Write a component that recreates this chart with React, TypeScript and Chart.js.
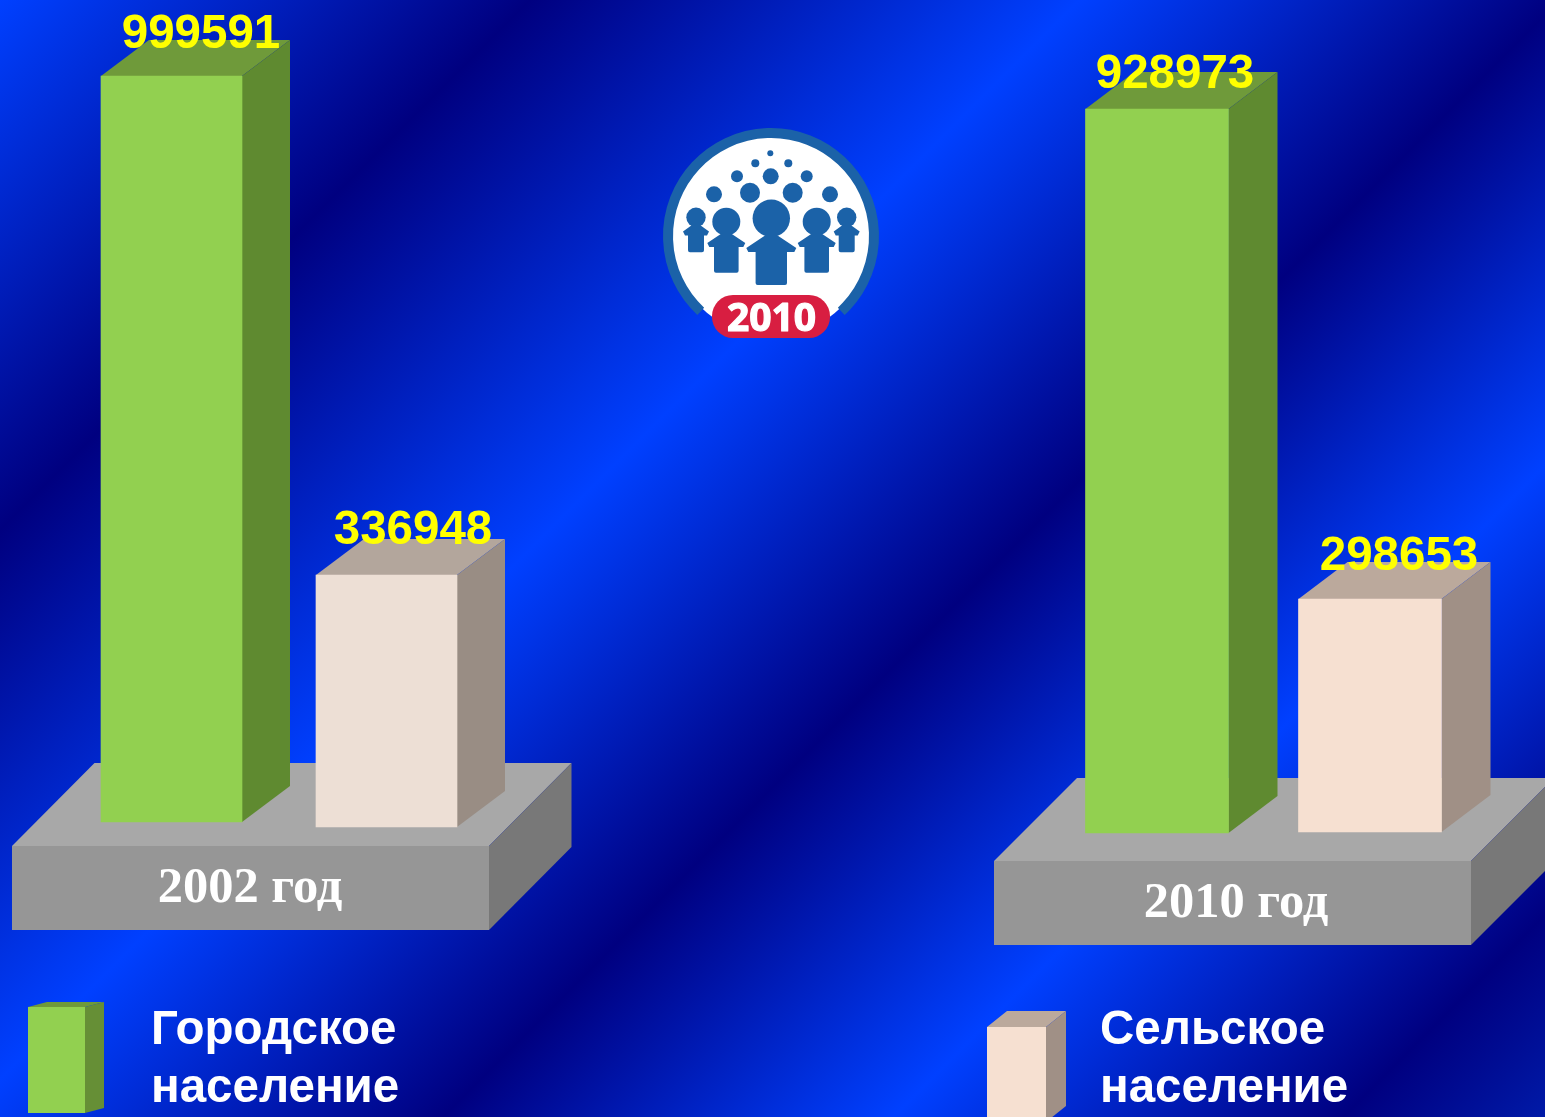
import React, { useEffect, useRef } from "react";
import { Chart, registerables } from "chart.js";

Chart.register(...registerables);

// ---- data ----
const categories = ["Городское население", "Сельское население"];
const years = ["2002 год", "2010 год"];
const urbanValues = [999591, 928973];
const ruralValues = [336948, 298653];
const logoYear = "2010";
const legendUrban = ["Городское", "население"];
const legendRural = ["Сельское", "население"];

// ---- layout & style ----
const W = 1545;
const H = 1117;
const FONT_SANS = '"Liberation Sans", Arial, sans-serif';
const FONT_SERIF = '"Liberation Serif", "Times New Roman", serif';

const GREEN = { front: "#92d050", side: "#5f8a30", top: "#6f9a3a" };
const RURAL_A = { front: "#eddfd5", side: "#998d84", top: "#b3a69c" };
const RURAL_B = { front: "#f6e0d1", side: "#a09086", top: "#bba99c" };

type Panel = {
  year: string;
  urban: number;
  rural: number;
  left: number;
  right: number;
  thickness: number;
  urbanBase: number;
  ruralBase: number;
  urbanK: number;
  ruralK: number;
  depthX: number;
  depthY: number;
  ruralStyle: typeof RURAL_A;
  labelOffsets: number[][];
  platform: { x0: number; x1: number; top: number; bottom: number; dx: number; dy: number };
  yearLabel: { x: number; y: number };
};

const panels: Panel[] = [
  {
    year: years[0], urban: urbanValues[0], rural: ruralValues[0],
    left: 64, right: 494, thickness: 141,
    urbanBase: 822, ruralBase: 827, urbanK: 746 / 999591, ruralK: 252 / 336948,
    depthX: 48, depthY: 36, ruralStyle: RURAL_A,
    labelOffsets: [[29.5, -41], [26.5, -44]],
    platform: { x0: 12, x1: 489, top: 846, bottom: 930, dx: 82.5, dy: 83 },
    yearLabel: { x: 250, y: 889 },
  },
  {
    year: years[1], urban: urbanValues[1], rural: ruralValues[1],
    left: 1050.5, right: 1476.5, thickness: 143,
    urbanBase: 833, ruralBase: 832, urbanK: 724 / 928973, ruralK: 233 / 298653,
    depthX: 49, depthY: 37, ruralStyle: RURAL_B,
    labelOffsets: [[18, -34], [29, -42]],
    platform: { x0: 994, x1: 1471, top: 861, bottom: 945, dx: 83, dy: 83 },
    yearLabel: { x: 1236, y: 904 },
  },
];

function poly(ctx: CanvasRenderingContext2D, pts: number[][], fill: string) {
  ctx.beginPath();
  pts.forEach(([x, y], i) => (i ? ctx.lineTo(x, y) : ctx.moveTo(x, y)));
  ctx.closePath();
  ctx.fillStyle = fill;
  ctx.fill();
}

function box(
  ctx: CanvasRenderingContext2D,
  x0: number, x1: number, top: number, bottom: number,
  dx: number, dy: number,
  style: { front?: string; side: string; top: string },
) {
  poly(ctx, [[x0, top], [x0 + dx, top - dy], [x1 + dx, top - dy], [x1, top]], style.top);
  poly(ctx, [[x1, top], [x1 + dx, top - dy], [x1 + dx, bottom - dy], [x1, bottom]], style.side);
  if (style.front) {
    ctx.fillStyle = style.front;
    ctx.fillRect(x0, top, x1 - x0, bottom - top);
  }
}

function drawBackground(ctx: CanvasRenderingContext2D) {
  const g = ctx.createLinearGradient(0, 0, 1331, 1331);
  const dark = "#000080";
  const bright = "#0040ff";
  const stops: [number, string][] = [
    [0, bright], [530, dark], [1080, bright], [1560, dark], [2010, bright], [2460, dark], [2662, "#001aa8"],
  ];
  stops.forEach(([u, c]) => g.addColorStop(u / 2662, c));
  ctx.fillStyle = g;
  ctx.fillRect(0, 0, W, H);
}

function person(
  ctx: CanvasRenderingContext2D,
  cx: number, headY: number, r: number,
  bodyHalf: number, shoulderHalf: number, neckY: number, shoulderY: number, bottom: number,
) {
  ctx.beginPath();
  ctx.arc(cx, headY, r, 0, Math.PI * 2);
  ctx.fill();
  ctx.beginPath();
  ctx.moveTo(cx - 4, neckY);
  ctx.lineTo(cx + 4, neckY);
  ctx.lineTo(cx + shoulderHalf, shoulderY - 2);
  ctx.lineTo(cx + shoulderHalf - 2, shoulderY + 2);
  ctx.lineTo(cx + bodyHalf, shoulderY + 2);
  ctx.lineTo(cx + bodyHalf, bottom - 2);
  ctx.quadraticCurveTo(cx + bodyHalf, bottom, cx + bodyHalf - 2, bottom);
  ctx.lineTo(cx - bodyHalf + 2, bottom);
  ctx.quadraticCurveTo(cx - bodyHalf, bottom, cx - bodyHalf, bottom - 2);
  ctx.lineTo(cx - bodyHalf, shoulderY + 2);
  ctx.lineTo(cx - shoulderHalf + 2, shoulderY + 2);
  ctx.lineTo(cx - shoulderHalf, shoulderY - 2);
  ctx.closePath();
  ctx.fill();
}

function drawLogo(ctx: CanvasRenderingContext2D) {
  const cx = 771;
  const cy = 236;
  const blue = "#1b62a8";
  ctx.save();
  ctx.fillStyle = "#ffffff";
  ctx.beginPath();
  ctx.arc(cx, cy, 100, 0, Math.PI * 2);
  ctx.fill();
  ctx.strokeStyle = blue;
  ctx.lineWidth = 10;
  ctx.lineCap = "butt";
  ctx.beginPath();
  ctx.arc(cx, cy, 103, (133 * Math.PI) / 180, (47 * Math.PI) / 180);
  ctx.stroke();

  ctx.fillStyle = blue;
  const dots = [
    [770.3, 153.3, 3], [755.3, 163.3, 4], [788.3, 163.3, 4], [737, 176.3, 6], [806.7, 176.3, 6],
    [770.7, 176.3, 8], [714, 194.3, 8], [830, 194.3, 8], [750, 192.7, 10], [792.7, 192.7, 10],
  ];
  dots.forEach(([x, y, r]) => {
    ctx.beginPath();
    ctx.arc(x, y, r, 0, Math.PI * 2);
    ctx.fill();
  });
  person(ctx, 771.3, 218.3, 18.7, 15.7, 25, 234, 250, 285);
  person(ctx, 726.3, 221.7, 14, 12.3, 19, 233, 245, 272.7);
  person(ctx, 816.7, 221.7, 14, 12.3, 19, 233, 245, 272.7);
  person(ctx, 696, 217.3, 9.7, 8, 13, 225, 233.5, 252.3);
  person(ctx, 846.7, 217.3, 9.7, 8, 13, 225, 233.5, 252.3);

  ctx.fillStyle = "#d81e41";
  ctx.beginPath();
  ctx.roundRect(712, 295, 118, 43, 21);
  ctx.fill();
  ctx.fillStyle = "#ffffff";
  ctx.strokeStyle = "#ffffff";
  ctx.lineWidth = 1.2;
  ctx.lineJoin = "round";
  ctx.font = 'bold 39px "Noto Sans", sans-serif';
  ctx.textAlign = "center";
  ctx.textBaseline = "alphabetic";
  ctx.fillText(logoYear, 771.5, 331);
  ctx.strokeText(logoYear, 771.5, 331);
  ctx.restore();
}

function drawLegend(ctx: CanvasRenderingContext2D) {
  box(ctx, 28, 85, 1007, 1113, 19, 5, { front: GREEN.front, side: "#668f36", top: GREEN.top });
  box(ctx, 987, 1046, 1027, 1122, 20, 16, RURAL_B);
  ctx.fillStyle = "#ffffff";
  ctx.font = `bold 47.5px ${FONT_SANS}`;
  ctx.textAlign = "left";
  ctx.textBaseline = "alphabetic";
  ctx.fillText(legendUrban[0], 151, 1044);
  ctx.fillText(legendUrban[1], 151, 1102);
  ctx.fillText(legendRural[0], 1100, 1044);
  ctx.fillText(legendRural[1], 1100, 1102);
}

function makeChart(canvas: HTMLCanvasElement, p: Panel, withScene: boolean) {
  const scene = {
    id: "scene",
    beforeDraw(chart: any) {
      const ctx: CanvasRenderingContext2D = chart.ctx;
      if (withScene) {
        drawBackground(ctx);
        drawLogo(ctx);
        drawLegend(ctx);
      }
      const f = p.platform;
      box(ctx, f.x0, f.x1, f.top, f.bottom, f.dx, f.dy, { front: "#969696", side: "#787878", top: "#a8a8a8" });
      ctx.save();
      ctx.fillStyle = "#ffffff";
      ctx.font = `bold 50.5px ${FONT_SERIF}`;
      ctx.textAlign = "center";
      ctx.textBaseline = "middle";
      ctx.fillText(p.year, p.yearLabel.x, p.yearLabel.y);
      ctx.restore();
    },
    beforeDatasetsDraw(chart: any) {
      const ctx: CanvasRenderingContext2D = chart.ctx;
      [GREEN, p.ruralStyle].forEach((style, i) => {
        const bar = chart.getDatasetMeta(i).data[i];
        const half = bar.width / 2;
        box(ctx, bar.x - half, bar.x + half, bar.y, bar.base, p.depthX, p.depthY, { side: style.side, top: style.top });
      });
    },
    afterDatasetsDraw(chart: any) {
      const ctx: CanvasRenderingContext2D = chart.ctx;
      ctx.save();
      ctx.font = `bold 47.5px ${FONT_SANS}`;
      ctx.textAlign = "center";
      ctx.textBaseline = "middle";
      ctx.fillStyle = "#ffff00";
      [0, 1].forEach((i) => {
        const bar = chart.getDatasetMeta(i).data[i];
        const value = chart.data.datasets[i].data[i];
        ctx.fillText(String(value), bar.x + p.labelOffsets[i][0], bar.y + p.labelOffsets[i][1]);
      });
      ctx.restore();
    },
  };

  const yScale = (base: number, k: number) => ({
    type: "linear" as const,
    axis: "y" as const,
    display: false,
    min: -(H - base) / k,
    max: base / k,
    grid: { display: false },
  });

  return new Chart(canvas, {
    type: "bar",
    data: {
      labels: categories,
      datasets: [
        {
          label: categories[0],
          data: [p.urban, null],
          yAxisID: "y",
          backgroundColor: GREEN.front,
          grouped: false,
          barThickness: p.thickness,
        },
        {
          label: categories[1],
          data: [null, p.rural],
          yAxisID: "yRural",
          backgroundColor: p.ruralStyle.front,
          grouped: false,
          barThickness: p.thickness,
        },
      ] as any,
    },
    options: {
      animation: false,
      responsive: false,
      layout: { padding: { left: p.left, right: W - p.right, top: 0, bottom: 0 } },
      plugins: { legend: { display: false }, tooltip: { enabled: false }, title: { display: false } },
      scales: {
        x: { display: false, grid: { display: false } },
        y: yScale(p.urbanBase, p.urbanK),
        yRural: yScale(p.ruralBase, p.ruralK),
      },
    },
    plugins: [scene],
  });
}

export default function App() {
  const a = useRef<HTMLCanvasElement>(null);
  const b = useRef<HTMLCanvasElement>(null);

  useEffect(() => {
    document.body.style.margin = "0";
    const first = makeChart(a.current!, panels[0], true);
    const second = makeChart(b.current!, panels[1], false);
    return () => {
      first.destroy();
      second.destroy();
    };
  }, []);

  const layer: React.CSSProperties = { position: "absolute", left: 0, top: 0, width: W, height: H };
  return (
    <div style={{ position: "relative", width: W, height: H, overflow: "hidden" }}>
      <canvas ref={a} width={W} height={H} style={layer} />
      <canvas ref={b} width={W} height={H} style={layer} />
    </div>
  );
}
